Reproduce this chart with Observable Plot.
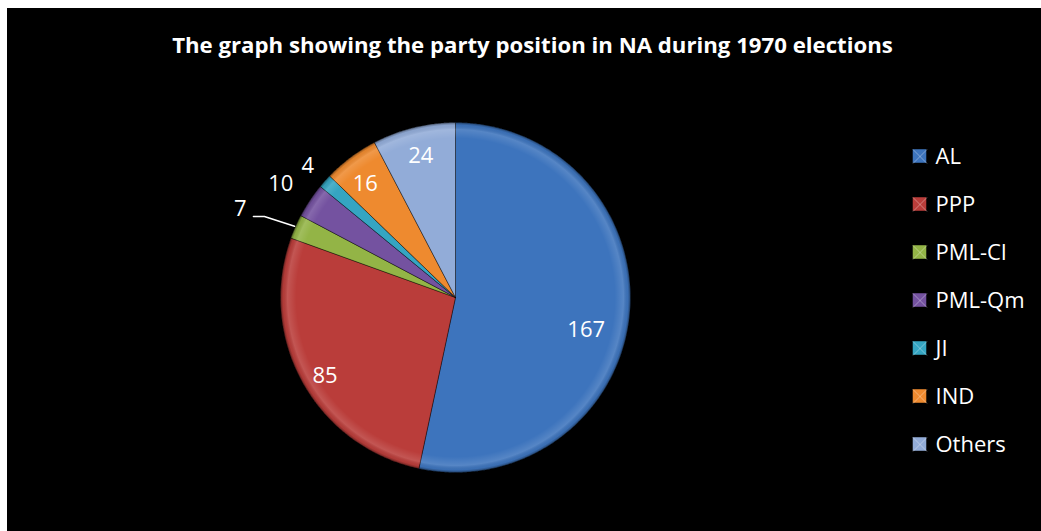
<!DOCTYPE html>
<html><head><meta charset="utf-8">
<script src="https://cdn.jsdelivr.net/npm/d3@7"></script>
<script src="https://cdn.jsdelivr.net/npm/@observablehq/plot@0.6"></script>
<style>
body{margin:0;background:#fff;}
#chart{position:absolute;left:7px;top:8px;width:1034px;height:523px;background:#000;font-family:"Open Sans",sans-serif;overflow:hidden;}
#title{height:72px;line-height:74px;text-align:center;color:#fff;font-weight:bold;font-size:22.2px;padding-left:17px;white-space:nowrap;}
#plot svg{display:block;background:#000;}
</style>
</head><body>
<div id="chart"><div id="title">The graph showing the party position in NA during 1970 elections</div><div id="plot"></div></div>
<script>
// Data
const parties = ["AL", "PPP", "PML-Cl", "PML-Qm", "JI", "IND", "Others"];
const seats = [167, 85, 7, 10, 4, 16, 24];
const colors = ["#3d74bd", "#ba3d3a", "#93b446", "#7452a0", "#35a5c2", "#ee8a2f", "#92acd8"];

// Layout (not data)
const W = 1034, H = 451, cx = 448, cy = 217, R = 175;
const labelLayout = {
  "AL": [0.77, 8], "PPP": [0.87, -2], "PML-Cl": [1.33, -1.4], "PML-Qm": [1.19, -0.7],
  "JI": [1.13, 0], "IND": [0.83, -1.6], "Others": [0.83, 0]
};
const leaderFor = "PML-Cl";

const data = parties.map((p, i) => ({party: p, seats: seats[i]}));
const arcs = d3.pie().value(d => d.seats).sort(null)(data);
const pt = (a, r) => [cx + r * Math.sin(a), cy - r * Math.cos(a)];

// Slice polygons
const slicePts = arcs.flatMap(a => {
  const p = a.data.party;
  const n = Math.max(2, Math.ceil((a.endAngle - a.startAngle) / 0.008));
  const pts = [{party: p, x: cx, y: cy}];
  for (let i = 0; i <= n; i++) {
    const ang = a.startAngle + (a.endAngle - a.startAngle) * i / n;
    const [x, y] = pt(ang, R);
    pts.push({party: p, x, y});
  }
  pts.push({party: p, x: cx, y: cy});
  return pts;
});

// Labels
const labels = arcs.map(a => {
  const [rf, da] = labelLayout[a.data.party];
  const mid = (a.startAngle + a.endAngle) / 2 + da * Math.PI / 180;
  const [x, y] = pt(mid, rf * R);
  return {party: a.data.party, seats: a.data.seats, x, y, mid: (a.startAngle + a.endAngle) / 2};
});
const lab = labels.find(d => d.party === leaderFor);
const [ex, ey] = pt(lab.mid, R + 1);
const leader = [
  {x: lab.x + 13, y: lab.y + 8},
  {x: lab.x + 24, y: lab.y + 8},
  {x: ex, y: ey}
];

// Legend
const legX = 912.5, legY0 = 76, legStep = 48, sq = 14;
const legend = parties.map((p, i) => ({party: p, x: legX, y: legY0 + i * legStep}));

const defsMark = () => {
  const defs = d3.create("svg:defs");
  const g = defs.append("radialGradient").attr("id", "rim");
  [[0, "#fff", 0], [0.91, "#fff", 0], [0.96, "#fff", 0.13], [0.985, "#000", 0.05], [1, "#000", 0.4]]
    .forEach(([o, c, op]) => g.append("stop").attr("offset", o).attr("stop-color", c).attr("stop-opacity", op));
  return defs.node();
};

const chart = Plot.plot({
  width: W, height: H,
  margin: 0,
  x: {domain: [0, W], range: [0, W], axis: null},
  y: {domain: [0, H], range: [0, H], axis: null},
  color: {domain: parties, range: colors},
  style: {background: "#000", fontFamily: "'Open Sans', sans-serif"},
  marks: [
    defsMark,
    Plot.line(slicePts, {x: "x", y: "y", z: "party", fill: "party", stroke: "rgba(0,0,0,0.4)", strokeWidth: 1, curve: "linear"}),
    Plot.dot([{x: cx, y: cy}], {x: "x", y: "y", r: R, fill: "url(#rim)", stroke: "none"}),
    Plot.text(labels, {x: "x", y: "y", text: d => String(d.seats), fill: "#fff", fontSize: 22, textAnchor: "middle", lineAnchor: "middle"}),
    Plot.line(leader, {x: "x", y: "y", stroke: "#fff", strokeWidth: 1.5}),
    Plot.rect(legend, {x1: d => d.x - sq / 2, x2: d => d.x + sq / 2, y1: d => d.y - sq / 2, y2: d => d.y + sq / 2, fill: "party", stroke: "rgba(0,0,0,0.45)"}),
    Plot.link(legend, {x1: d => d.x - sq / 2, y1: d => d.y - sq / 2, x2: d => d.x + sq / 2, y2: d => d.y + sq / 2, stroke: "rgba(255,255,255,0.35)", strokeWidth: 1}),
    Plot.link(legend, {x1: d => d.x + sq / 2, y1: d => d.y - sq / 2, x2: d => d.x - sq / 2, y2: d => d.y + sq / 2, stroke: "rgba(255,255,255,0.35)", strokeWidth: 1}),
    Plot.text(legend, {x: d => d.x + 15.5, y: "y", text: "party", fill: "#fff", fontSize: 22, textAnchor: "start", lineAnchor: "middle"})
  ]
});
document.getElementById("plot").appendChild(chart);
</script>
</body></html>
